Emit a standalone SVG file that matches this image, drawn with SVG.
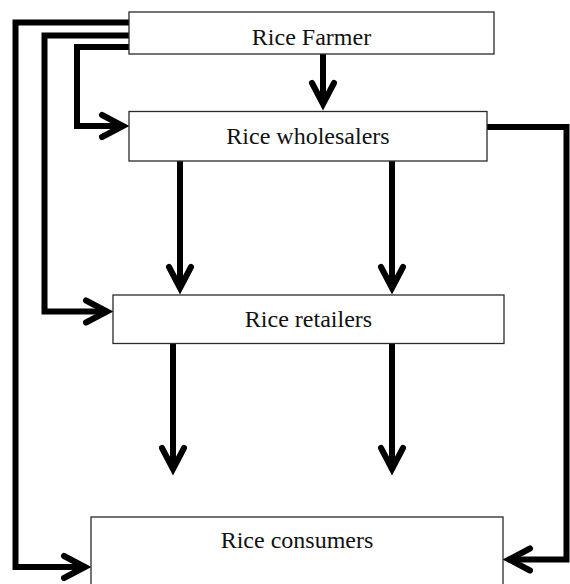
<svg xmlns="http://www.w3.org/2000/svg" width="570" height="584" viewBox="0 0 570 584">
<style>
.box{fill:#fff;stroke:#2a2a2a;stroke-width:1.3}
.lbl{font-family:"Liberation Serif","Times New Roman",serif;font-size:24px;fill:#111;text-anchor:middle}
.con{fill:none;stroke:#000;stroke-width:6;stroke-linejoin:miter;stroke-linecap:butt;marker-end:url(#ah)}
</style>
<defs>
<marker id="ah" markerUnits="userSpaceOnUse" markerWidth="40" markerHeight="40" viewBox="0 0 40 40" refX="26" refY="20" orient="auto" overflow="visible">
<path d="M5,9 L26,20 L5,31" fill="none" stroke="#000" stroke-width="6" stroke-linecap="round" stroke-linejoin="miter"/>
</marker>
</defs>
<rect width="570" height="584" fill="#fff"/>
<g id="connectors">
<path class="con" d="M323,54 V104"/>
<path class="con" d="M129,47 H77 V126 H123"/>
<path class="con" d="M129,35.5 H44.5 V311.5 H107"/>
<path class="con" d="M129,22.5 H15.5 V567 H85"/>
<path class="con" d="M487,127 H566.5 V559.5 H509"/>
<path class="con" d="M180,161 V288"/>
<path class="con" d="M392,161 V288"/>
<path class="con" d="M173,344 V469"/>
<path class="con" d="M392,344 V469"/>
</g>
<g id="farmer">
<rect class="box" x="129" y="12" width="365" height="42"/>
<text class="lbl" x="311.5" y="45">Rice Farmer</text>
</g>
<g id="wholesalers">
<rect class="box" x="129" y="111.5" width="358" height="49.5"/>
<text class="lbl" x="308" y="144">Rice wholesalers</text>
</g>
<g id="retailers">
<rect class="box" x="113" y="295" width="391" height="48.5"/>
<text class="lbl" x="308.5" y="327">Rice retailers</text>
</g>
<g id="consumers">
<rect class="box" x="91" y="517" width="412" height="80"/>
<text class="lbl" x="297" y="548">Rice consumers</text>
</g>
</svg>
